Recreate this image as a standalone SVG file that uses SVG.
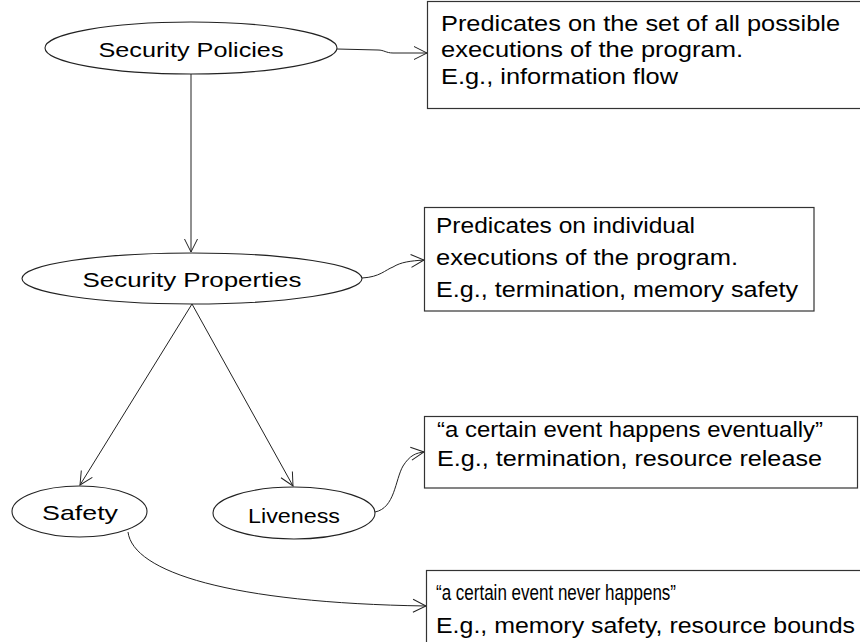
<svg xmlns="http://www.w3.org/2000/svg" width="860" height="642" viewBox="0 0 860 642">
<defs>
<style>
.n{fill:#fff;stroke:#222;stroke-width:1.1}
.b{fill:#fff;stroke:#333;stroke-width:1.2}
.e{font-family:"Liberation Sans",Arial,sans-serif;font-size:21px;fill:#000;text-anchor:middle}
.t{font-family:"Liberation Sans",Arial,sans-serif;font-size:22px;fill:#000}
.c{fill:none;stroke:#222;stroke-width:1}
</style>
<marker id="ah" markerUnits="userSpaceOnUse" markerWidth="16" markerHeight="16" refX="13" refY="6.5" orient="auto" overflow="visible">
<path d="M0,0 L13,6.5 L0,13" fill="none" stroke="#222" stroke-width="1"/>
</marker>
</defs>
<rect width="860" height="642" fill="#fff"/>
<g id="connectors">
<path class="c" d="M191,74 L191,252" marker-end="url(#ah)"/>
<path class="c" d="M337,49 L378,50 C384,50 386,53 393,53 L427,53" marker-end="url(#ah)"/>
<path class="c" d="M362,278 C380,277 385,270 393,267 C401,262 410,261 424,260" marker-end="url(#ah)"/>
<path class="c" d="M192,304 L80,485" marker-end="url(#ah)"/>
<path class="c" d="M192,304 L293,486" marker-end="url(#ah)"/>
<path class="c" d="M375,512 C395,508 395,480 403,466 C410,455 416,453 424,452" marker-end="url(#ah)"/>
<path class="c" d="M128,532 C133,572 230,603 426,606" marker-end="url(#ah)"/>
</g>
<g id="policies">
<ellipse class="n" cx="191" cy="48" rx="146" ry="26"/>
<text class="e" x="191" y="57" textLength="185" lengthAdjust="spacingAndGlyphs">Security Policies</text>
</g>
<g id="properties">
<ellipse class="n" cx="192" cy="278.5" rx="170" ry="25.5"/>
<text class="e" x="192" y="287" textLength="219" lengthAdjust="spacingAndGlyphs">Security Properties</text>
</g>
<g id="safety">
<ellipse class="n" cx="79.5" cy="511.5" rx="67.5" ry="25.5"/>
<text class="e" x="80" y="520" textLength="76" lengthAdjust="spacingAndGlyphs">Safety</text>
</g>
<g id="liveness">
<ellipse class="n" cx="294" cy="513" rx="81" ry="26"/>
<text class="e" x="294" y="523" textLength="92" lengthAdjust="spacingAndGlyphs">Liveness</text>
</g>
<g id="box-policies">
<rect class="b" x="427.5" y="1.5" width="440" height="107"/>
<text class="t" x="441" y="31" textLength="399" lengthAdjust="spacingAndGlyphs">Predicates on the set of all possible</text>
<text class="t" x="441" y="57" textLength="302" lengthAdjust="spacingAndGlyphs">executions of the program.</text>
<text class="t" x="441" y="84" textLength="237" lengthAdjust="spacingAndGlyphs">E.g., information flow</text>
</g>
<g id="box-properties">
<rect class="b" x="424.5" y="207.5" width="389.5" height="103.5"/>
<text class="t" x="436" y="233" textLength="259" lengthAdjust="spacingAndGlyphs">Predicates on individual</text>
<text class="t" x="436" y="265" textLength="302" lengthAdjust="spacingAndGlyphs">executions of the program.</text>
<text class="t" x="436" y="297" textLength="362" lengthAdjust="spacingAndGlyphs">E.g., termination, memory safety</text>
</g>
<g id="box-liveness">
<rect class="b" x="424.5" y="416.5" width="433" height="71.5"/>
<text class="t" x="437" y="437" textLength="386" lengthAdjust="spacingAndGlyphs">“a certain event happens eventually”</text>
<text class="t" x="437" y="466" textLength="385" lengthAdjust="spacingAndGlyphs">E.g., termination, resource release</text>
</g>
<g id="box-safety">
<rect class="b" x="426.5" y="570.5" width="440" height="80"/>
<text class="t" x="436" y="600" textLength="240" lengthAdjust="spacingAndGlyphs">“a certain event never happens”</text>
<text class="t" x="436" y="633" textLength="419" lengthAdjust="spacingAndGlyphs">E.g., memory safety, resource bounds</text>
</g>
</svg>
